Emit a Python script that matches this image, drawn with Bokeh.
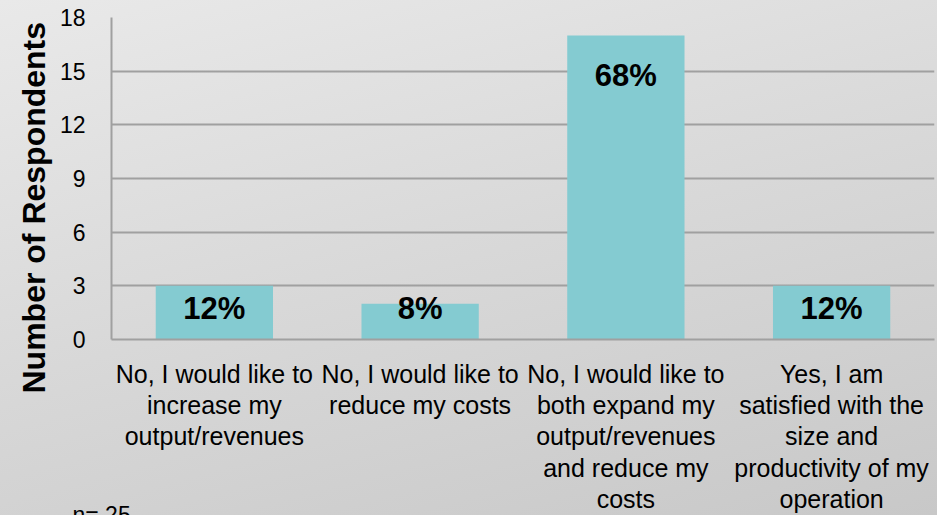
from bokeh.plotting import figure
from bokeh.models import FactorRange, FixedTicker, ColumnDataSource, Title
from bokeh.embed import file_html
from bokeh.resources import INLINE
from bokeh.core.properties import value

# ---- data ----
categories = [
    "No, I would like to\nincrease my\noutput/revenues",
    "No, I would like to\nreduce my costs",
    "No, I would like to\nboth expand my\noutput/revenues\nand reduce my\ncosts",
    "Yes, I am\nsatisfied with the\nsize and\nproductivity of my\noperation",
]
counts = [3, 2, 17, 3]
percent_labels = ["12%", "8%", "68%", "12%"]
y_ticks = [0, 3, 6, 9, 12, 15, 18]
y_title = "Number of Respondents"
note = "n= 25"

FONT = "Liberation Sans"
GRID = "#a0a0a0"

p = figure(
    width=937, height=515,
    x_range=FactorRange(*categories, range_padding=0),
    y_range=(0, 18),
    output_backend="svg", toolbar_location=None,
    min_border_left=111, min_border_right=3, min_border_top=17,
    min_border_bottom=0,
)
p.background_fill_color = None
p.border_fill_color = None
p.styles = {"background": "linear-gradient(165deg, #e9e9e9 0%, #d8d8d8 50%, #c8c8c8 100%)"}
p.outline_line_color = None

src = ColumnDataSource(dict(
    x=categories,
    top=counts,
    lab=percent_labels,
    ly=[max(v - 2.25, 1.75) for v in counts],
))
p.vbar(x="x", top="top", width=0.57, source=src,
       fill_color="#84CBD1", line_color=None)
p.text(x="x", y="ly", text="lab", source=src,
       text_align="center", text_baseline="middle",
       text_font=value(FONT), text_font_style="bold",
       text_font_size="31px", text_color="#000000")

# y axis
p.yaxis.ticker = FixedTicker(ticks=y_ticks)
p.yaxis.major_label_text_font = FONT
p.yaxis.major_label_text_font_size = "23px"
p.yaxis.major_label_text_color = "#000000"
p.yaxis.major_label_standoff = 20
p.yaxis.major_tick_line_color = None
p.yaxis.minor_tick_line_color = None
p.yaxis.axis_line_color = GRID
p.yaxis.axis_line_width = 2

# x axis
p.xaxis.major_label_text_font = FONT
p.xaxis.major_label_text_font_size = "25px"
p.xaxis.major_label_text_color = "#000000"
p.xaxis.major_label_text_line_height = 1.12
p.xaxis.major_label_standoff = 14
p.xaxis.major_tick_line_color = None
p.xaxis.minor_tick_line_color = None
p.xaxis.axis_line_color = GRID
p.xaxis.axis_line_width = 2

p.xgrid.grid_line_color = None
p.ygrid.grid_line_color = GRID
p.ygrid.grid_line_width = 2

# y-axis title as a side title, starting below the frame as in the reference
p.add_layout(Title(text=y_title, align="left", offset=-54, standoff=10,
                   text_font=FONT, text_font_style="bold",
                   text_font_size="32px", text_color="#000000"), "left")

# sample-size note at the very bottom left (partly cut off, as in the reference)
p.add_layout(Title(text=note, align="left", offset=-39, standoff=-28,
                   vertical_align="top",
                   text_font=FONT, text_font_style="normal",
                   text_font_size="23px", text_color="#000000"), "below")

open("out.html", "w").write(file_html(p, INLINE))
